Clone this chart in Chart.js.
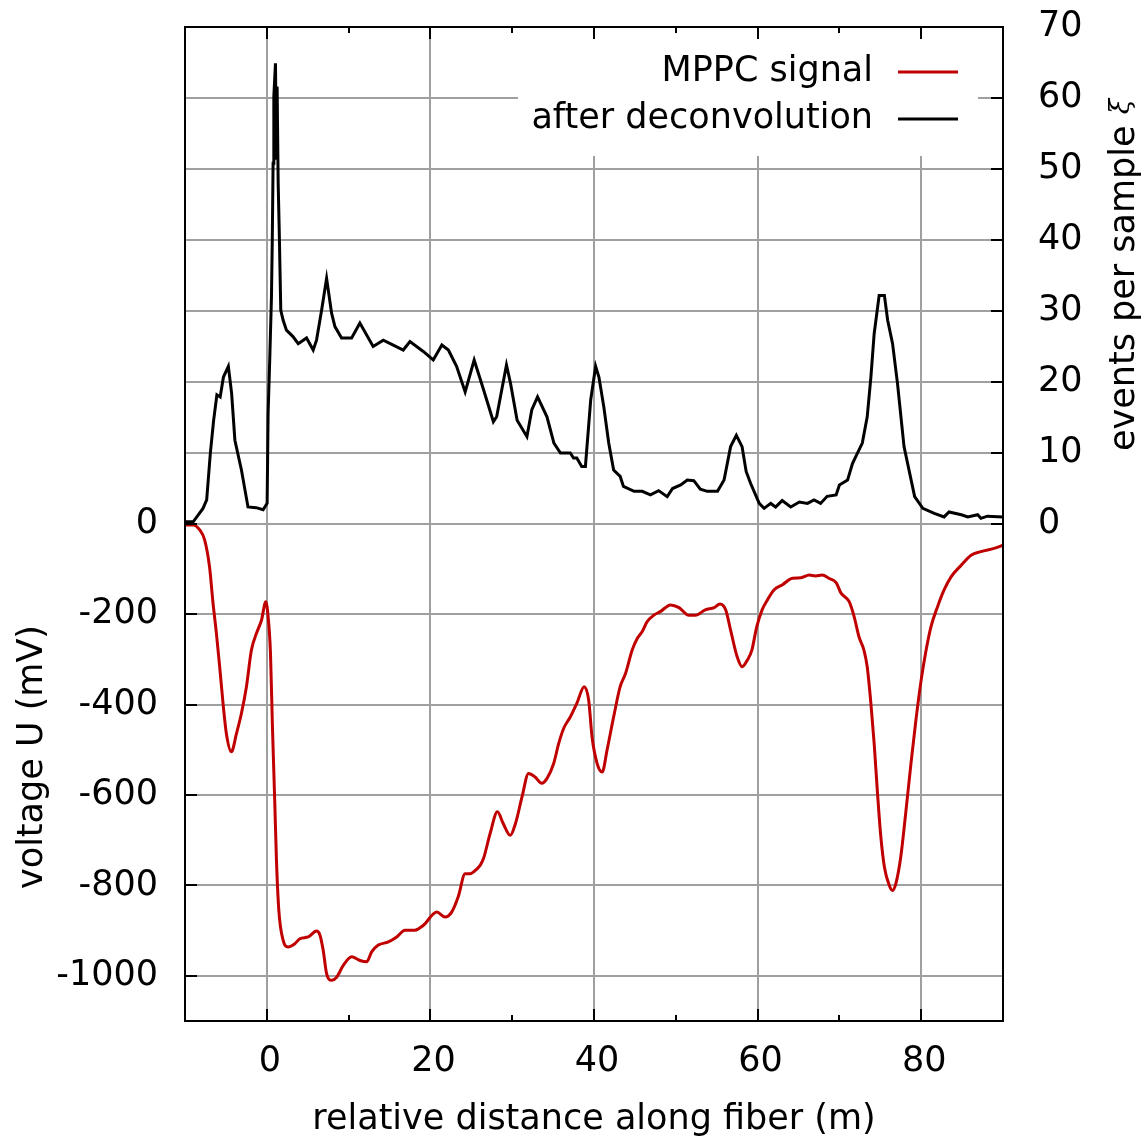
<!DOCTYPE html>
<html><head><meta charset="utf-8">
<script src="https://cdn.jsdelivr.net/npm/chart.js@4/dist/chart.umd.min.js"></script>
<style>html,body{margin:0;padding:0;background:#fff;}canvas{display:block}</style>
</head><body>
<canvas id="c" width="1142" height="1142"></canvas>
<script>
const FONT = '"DejaVu Sans", Verdana, sans-serif';
const FSIZE = 35;
const xTicks = [0, 20, 40, 60, 80];
const xMinorTicks = [10, 30, 50, 70];
const voltageTicks = [-1000, -800, -600, -400, -200, 0];
const eventTicks = [0, 10, 20, 30, 40, 50, 60, 70];
const seriesLabels = ['MPPC signal', 'after deconvolution'];
const xTitle = 'relative distance along fiber (m)';
const yTitle = 'voltage U (mV)';
const y2Title = 'events per sample ';
const y2Symbol = 'ξ';

const mppcX = [-10,-9,-8.2,-7.6,-7.0,-6.57,-6.16,-5.76,-5.35,-4.94,-4.33,-3.71,-3.1,-2.49,-1.88,-1.26,-0.65,-0.12,0.16,0.45,0.69,0.98,1.18,1.47,1.99,2.6,3.43,4.04,5.06,6.08,6.5,6.9,7.31,7.92,8.54,9.35,10.37,11.39,12.2,12.82,13.63,14.86,15.88,16.9,18.1,19.15,20.78,21.8,22.6,23.4,24.25,24.86,25.27,26.1,26.5,27.3,28.2,28.9,29.76,30.4,31.2,32.0,32.8,33.6,34.26,35.07,35.68,36.3,37.1,37.9,38.8,39.35,39.76,40.38,41.0,41.6,42.4,43.2,43.85,44.67,45.3,45.9,46.5,47.3,48.1,49.36,50.4,51.6,52.4,53.6,54.7,55.4,56.1,56.7,57.5,58.1,58.75,59.3,59.9,60.55,61.2,62.0,63.0,64.26,65.3,66.3,67.1,67.9,68.7,69.6,70.2,71.2,71.8,72.4,73.0,73.4,73.85,74.25,74.66,75.07,75.5,76.1,76.5,76.9,77.5,78.1,78.75,79.4,80.0,80.6,81.2,82.0,82.8,83.65,84.9,86.1,87.3,88.9,90];
const mppcY = [-2,-2,-13,-35,-95,-176,-242,-316,-397,-464,-504,-464,-419,-360,-279,-242,-213,-172,-205,-286,-449,-619,-744,-855,-921,-936,-929,-918,-914,-901,-910,-944,-995,-1010,-1003,-977,-958,-966,-969,-947,-932,-925,-914,-899,-899,-888,-859,-870,-859,-825,-774,-774,-770,-755,-740,-685,-637,-663,-689,-663,-604,-552,-560,-574,-563,-530,-486,-452,-427,-397,-360,-390,-471,-530,-549,-500,-427,-360,-331,-279,-253,-238,-216,-202,-194,-179,-185,-202,-202,-190,-185,-177,-190,-235,-294,-316,-301,-279,-227,-190,-168,-146,-135,-120,-119,-113,-115,-113,-120,-130,-153,-172,-205,-250,-279,-316,-397,-486,-596,-693,-759,-800,-811,-796,-737,-641,-530,-427,-345,-279,-227,-183,-146,-117,-91,-69,-61,-54,-47];

const deconvX = [-10,-9,-7.8,-7.35,-6.9,-6.5,-6.1,-5.7,-5.3,-4.7,-4.3,-3.9,-3.1,-2.3,-1.3,-0.45,0.04,0.16,0.37,0.57,0.67,0.77,0.86,1.06,1.18,1.26,1.39,1.51,1.71,2.0,2.4,3.2,3.84,4.86,5.67,6.08,6.7,7.31,7.92,8.33,9.14,10.37,11.38,13.0,14.24,15.46,16.68,17.5,19.13,20.35,21.4,22.2,23.2,24.25,25.35,26.5,27.7,28.1,29.3,29.8,30.6,31.8,32.4,33.1,34.25,35.1,35.9,37.1,37.5,37.9,38.5,38.95,39.6,40.2,40.6,41.2,41.8,42.4,43.2,43.6,44.9,45.9,46.9,47.9,48.95,49.6,50.6,51.4,52.2,53.0,53.85,55.1,55.9,56.7,57.4,58.1,58.6,59.15,60.2,60.8,61.6,62.2,63.0,64.05,65.1,66.1,66.9,67.7,68.5,69.6,70.0,71.0,71.6,72.0,72.8,73.4,73.85,74.25,74.86,75.5,75.9,76.5,77.1,77.9,79.2,80.2,81.6,82.8,83.4,84.9,85.7,86.9,87.3,88.1,90];
const deconvY = [0.3,0.3,2.2,3.4,10,14.6,18.2,17.9,20.7,22.2,18.4,11.8,7.6,2.4,2.3,2.0,2.9,15.6,23.6,32,40,50.8,60.2,64.9,51.3,61.6,48,41.9,30.1,28.7,27.3,26.4,25.4,26.2,24.5,25.9,30.1,34.6,29.7,27.8,26.2,26.2,28.3,25.0,25.9,25.2,24.5,25.7,24.3,23.1,25.2,24.5,22.2,18.6,23.1,18.9,14.4,15.1,22.4,19.8,14.6,12.3,16.1,17.9,15.1,11.4,10,10,9.3,9.3,8.1,8.1,17.5,22.2,20.7,16.5,11.4,7.6,6.7,5.3,4.6,4.6,4.1,4.7,3.85,5.0,5.5,6.2,6.1,4.9,4.6,4.6,6.2,10.9,12.5,10.9,7.4,5.7,2.9,2.2,2.9,2.4,3.3,2.4,3.1,2.9,3.4,2.9,3.9,4.1,5.5,6.2,8.5,9.5,11.4,15.1,20.7,26.8,32.2,32.2,28.7,25.4,19.8,10.9,3.85,2.2,1.5,1.0,1.7,1.3,1.0,1.3,0.8,1.1,1.0];

const RED = '#c00000';
const GRID = '#a0a0a0';
const toPoints = (xs, ys) => xs.map((x, i) => ({x: x, y: ys[i]}));

const overlay = {
  id: 'overlay',
  beforeDatasetsDraw(chart) {
    const ctx = chart.ctx, a = chart.chartArea;
    ctx.save();
    ctx.fillStyle = '#fff';
    ctx.fillRect(518, a.top + 1, 460, 128);
    ctx.font = FSIZE + 'px ' + FONT;
    ctx.textAlign = 'right';
    ctx.textBaseline = 'middle';
    const colors = [RED, '#000'];
    const ys = [72, 119];
    seriesLabels.forEach((t, i) => {
      ctx.fillStyle = '#000';
      ctx.fillText(t, 873, ys[i]);
      ctx.strokeStyle = colors[i];
      ctx.lineWidth = 3;
      ctx.beginPath();
      ctx.moveTo(898, ys[i]);
      ctx.lineTo(958, ys[i]);
      ctx.stroke();
    });
    ctx.restore();
  },
  afterDraw(chart) {
    const ctx = chart.ctx, a = chart.chartArea;
    const sx = chart.scales.x, sy = chart.scales.y, sy2 = chart.scales.y2;
    ctx.save();
    ctx.strokeStyle = '#000';
    ctx.lineWidth = 2;
    ctx.beginPath();
    xTicks.forEach(v => {
      const p = Math.round(sx.getPixelForValue(v));
      ctx.moveTo(p, a.bottom); ctx.lineTo(p, a.bottom - 12);
      ctx.moveTo(p, a.top); ctx.lineTo(p, a.top + 12);
    });
    xMinorTicks.forEach(v => {
      const p = Math.round(sx.getPixelForValue(v));
      ctx.moveTo(p, a.bottom); ctx.lineTo(p, a.bottom - 6);
      ctx.moveTo(p, a.top); ctx.lineTo(p, a.top + 6);
    });
    voltageTicks.forEach(v => {
      const p = Math.round(sy.getPixelForValue(v));
      ctx.moveTo(a.left, p); ctx.lineTo(a.left + 12, p);
    });
    eventTicks.forEach(v => {
      const p = Math.round(sy2.getPixelForValue(v));
      ctx.moveTo(a.right, p); ctx.lineTo(a.right - 12, p);
    });
    ctx.stroke();
    ctx.strokeRect(a.left, a.top, a.right - a.left, a.bottom - a.top);

    ctx.fillStyle = '#000';
    ctx.font = FSIZE + 'px ' + FONT;
    ctx.textBaseline = 'middle';
    ctx.textAlign = 'center';
    ctx.fillText(xTitle, (a.left + a.right) / 2, 1120);

    ctx.save();
    ctx.translate(33, 757);
    ctx.rotate(-Math.PI / 2);
    ctx.fillText(yTitle, 0, 0);
    ctx.restore();

    ctx.save();
    ctx.translate(1125, 275);
    ctx.rotate(-Math.PI / 2);
    const w1 = ctx.measureText(y2Title).width;
    ctx.font = 'italic 28px "DejaVu Serif", serif';
    const w2 = ctx.measureText(y2Symbol).width;
    const start = -(w1 + w2) / 2;
    ctx.textAlign = 'left';
    ctx.font = FSIZE + 'px ' + FONT;
    ctx.fillText(y2Title, start, 0);
    ctx.font = 'italic 28px "DejaVu Serif", serif';
    ctx.fillText(y2Symbol, start + w1, -3);
    ctx.restore();
    ctx.restore();
  }
};

const tickFont = {family: FONT, size: FSIZE};
const plain = v => String(v);
new Chart(document.getElementById('c'), {
  type: 'line',
  data: {
    datasets: [
      {label: seriesLabels[0], data: toPoints(mppcX, mppcY), yAxisID: 'y', borderColor: RED, borderWidth: 3, pointRadius: 0, cubicInterpolationMode: 'monotone', fill: false},
      {label: seriesLabels[1], data: toPoints(deconvX, deconvY), yAxisID: 'y2', borderColor: '#000', borderWidth: 3, pointRadius: 0, tension: 0, fill: false}
    ]
  },
  options: {
    responsive: false,
    animation: false,
    events: [],
    layout: {padding: {top: 27, left: 0, right: 0, bottom: 0}},
    plugins: {legend: {display: false}, tooltip: {enabled: false}},
    scales: {
      x: {
        type: 'linear', min: -10, max: 90,
        afterBuildTicks: s => { s.ticks = xTicks.map(v => ({value: v})); },
        afterFit: s => { s.height = 121; s.paddingLeft = 0; s.paddingRight = 0; },
        grid: {color: GRID, lineWidth: 2, drawTicks: false},
        border: {display: false},
        ticks: {font: tickFont, color: '#000', padding: 20, maxRotation: 0, autoSkip: false, labelOffset: 3, callback: plain}
      },
      y: {
        type: 'linear', position: 'left', min: -1100, max: 1100,
        afterBuildTicks: s => { s.ticks = voltageTicks.map(v => ({value: v})); },
        afterFit: s => { s.width = 185; s.paddingTop = 0; s.paddingBottom = 0; },
        grid: {color: GRID, lineWidth: 2, drawTicks: false},
        border: {display: false},
        ticks: {font: tickFont, color: '#000', padding: 27, autoSkip: false, callback: plain}
      },
      y2: {
        type: 'linear', position: 'right', min: -70, max: 70,
        afterBuildTicks: s => { s.ticks = eventTicks.map(v => ({value: v})); },
        afterFit: s => { s.width = 139; s.paddingTop = 0; s.paddingBottom = 0; },
        grid: {color: GRID, lineWidth: 2, drawTicks: false},
        border: {display: false},
        ticks: {font: tickFont, color: '#000', padding: 35, autoSkip: false, callback: plain}
      }
    }
  },
  plugins: [overlay]
});
</script>
</body></html>
